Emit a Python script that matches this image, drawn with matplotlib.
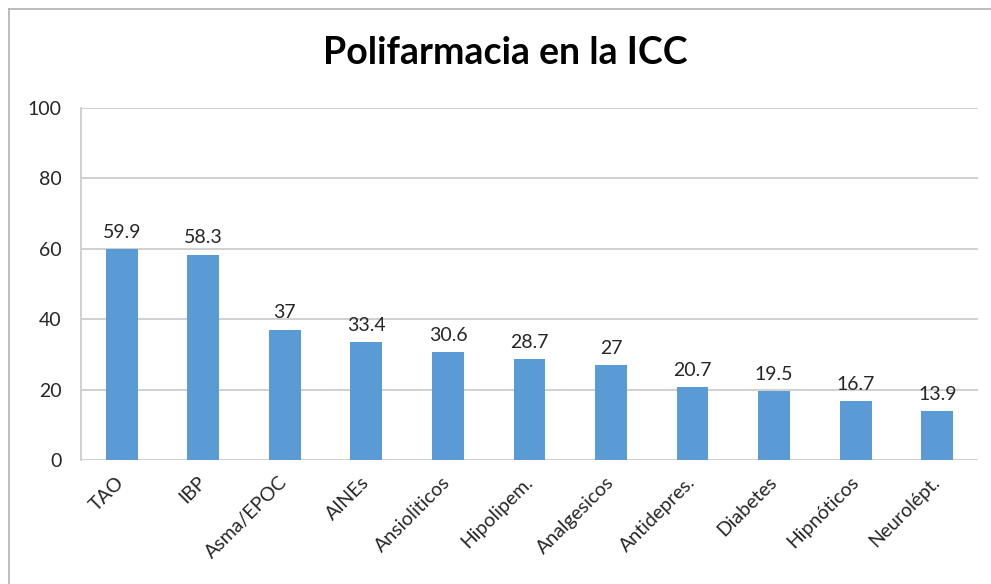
import matplotlib.pyplot as plt
from matplotlib.lines import Line2D

CATEGORIES = ["TAO", "IBP", "Asma/EPOC", "AINEs", "Ansioliticos", "Hipolipem.",
              "Analgesicos", "Antidepres.", "Diabetes", "Hipnóticos", "Neurolépt."]
VALUES = [59.9, 58.3, 37, 33.4, 30.6, 28.7, 27, 20.7, 19.5, 16.7, 13.9]
Y_TICKS = [0, 20, 40, 60, 80, 100]

BAR_COLOR = "#5B9BD5"
GRID_COLOR = "#C8C8C8"
TEXT_COLOR = "#262626"

plt.rcParams["font.family"] = ["Lato", "DejaVu Sans"]


def fmt(v):
    return f"{v:g}"


def main():
    fig = plt.figure(figsize=(9.91, 5.84), dpi=100)
    ax = fig.add_axes([0.0817, 0.2123, 0.9052, 0.6028])

    x = range(len(CATEGORIES))
    bars = ax.bar(x, VALUES, width=0.39, color=BAR_COLOR, zorder=3)

    for rect, v in zip(bars, VALUES):
        ax.annotate(fmt(v), (rect.get_x() + rect.get_width() / 2, v),
                    xytext=(0, 6), textcoords="offset points",
                    ha="center", va="bottom", fontsize=14, color=TEXT_COLOR)

    ax.set_xlim(-0.5, len(CATEGORIES) - 0.5)
    ax.set_ylim(0, 100)
    ax.set_yticks(Y_TICKS)
    ax.set_yticklabels([str(t) for t in Y_TICKS], fontsize=14, color=TEXT_COLOR)
    ax.set_xticks(list(x))
    ax.set_xticklabels(CATEGORIES, rotation=45, ha="right", va="center",
                       rotation_mode="anchor", fontsize=14, color=TEXT_COLOR)
    ax.tick_params(axis="both", length=0)
    ax.tick_params(axis="y", pad=14)
    ax.tick_params(axis="x", pad=14)

    ax.grid(axis="y", color=GRID_COLOR, linewidth=1.2, zorder=0)
    for side in ["top", "right", "bottom"]:
        ax.spines[side].set_visible(False)
    ax.spines["left"].set_color(GRID_COLOR)
    ax.spines["left"].set_linewidth(1.2)

    fig.text(0.51, 0.909, "Polifarmacia en la ICC", ha="center", va="center",
             fontsize=27, fontweight="bold", color="black")

    # outer chart frame (left and top edges visible in the reference)
    fig.add_artist(Line2D([0.0091, 0.0091], [0, 0.985], color="#B0B0B0", linewidth=1.2))
    fig.add_artist(Line2D([0.0091, 1.0], [0.985, 0.985], color="#B0B0B0", linewidth=1.2))

    fig.savefig("out.png", dpi=100)
    plt.close(fig)


if __name__ == "__main__":
    main()
